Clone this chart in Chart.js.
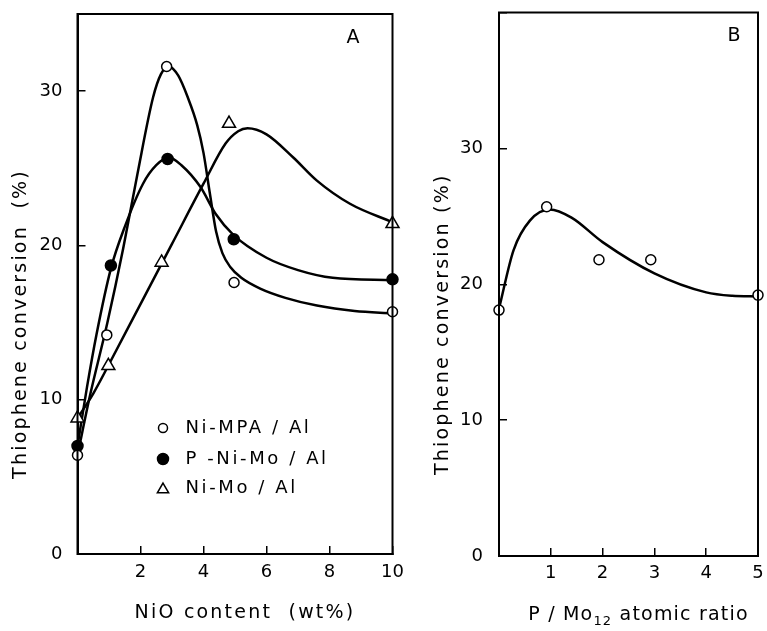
<!DOCTYPE html>
<html><head><meta charset="utf-8">
<script src="https://cdn.jsdelivr.net/npm/chart.js@4/dist/chart.umd.min.js"></script>
<style>
html,body{margin:0;padding:0;background:#fff;}
#wrap{position:relative;width:767px;height:631px;overflow:hidden;background:#fff;}
#ca{position:absolute;left:0;top:0;}
#cb{position:absolute;left:430px;top:0;}
</style></head><body>
<div id="wrap"><canvas id="ca" width="430" height="631"></canvas><canvas id="cb" width="337" height="631"></canvas></div>
<script>
// ---------- Panel A: thiophene conversion vs NiO content (wt%) ----------
const aXTicks = [2, 4, 6, 8, 10];
const aYTicks = [0, 10, 20, 30];
// measured points
const mpaX = [0, 0.93, 2.83, 4.97, 10];
const mpaY = [6.4, 14.2, 31.6, 17.6, 15.7];
const pnmX = [0, 1.06, 2.86, 4.96, 10];
const pnmY = [7.0, 18.7, 25.6, 20.4, 17.8];
const nmX = [0, 0.98, 2.67, 4.81, 10];
const nmY = [8.8, 12.2, 18.9, 27.9, 21.4];
// drawn trend curves
const mpaCurveX = [0, 0.4, 0.95, 1.45, 1.9, 2.4, 2.65, 2.9, 3.2, 3.5, 3.8, 4.0, 4.2, 4.4, 4.6, 4.85, 5.2, 5.8, 6.6, 7.6, 8.8, 10];
const mpaCurveY = [6.4, 10.3, 15.0, 19.8, 24.6, 29.6, 31.1, 31.6, 31.0, 29.6, 27.8, 26.0, 23.4, 20.9, 19.5, 18.6, 17.9, 17.2, 16.6, 16.1, 15.75, 15.6];
const pnmCurveX = [0, 0.3, 0.6, 1.06, 1.5, 2.08, 2.5, 2.9, 3.3, 3.9, 4.4, 4.94, 6.0, 7.0, 8.1, 10];
const pnmCurveY = [7.0, 10.8, 14.2, 18.5, 21.2, 24.0, 25.2, 25.7, 25.2, 23.8, 22.0, 20.7, 19.2, 18.4, 17.9, 17.75];
const nmCurveX = [0, 0.5, 1.0, 2.0, 3.0, 4.0, 4.7, 5.1, 5.4, 6.0, 6.85, 7.6, 8.65, 10];
const nmCurveY = [8.8, 10.4, 12.3, 16.2, 20.1, 24.0, 26.6, 27.4, 27.6, 27.2, 25.7, 24.2, 22.7, 21.5];
const aLegend = ['Ni-MPA / Al', 'P -Ni-Mo / Al', 'Ni-Mo / Al'];

// ---------- Panel B: thiophene conversion vs P/Mo12 atomic ratio ----------
const bXTicks = [1, 2, 3, 4, 5];
const bYTicks = [0, 10, 20, 30];
const bX = [0, 0.92, 1.93, 2.93, 5];
const bY = [18.1, 25.7, 21.8, 21.8, 19.2];
const bCurveX = [0, 0.28, 0.6, 0.98, 1.4, 2.0, 3.0, 4.0, 4.5, 5];
const bCurveY = [18.2, 22.5, 24.7, 25.5, 24.9, 23.1, 20.8, 19.4, 19.15, 19.1];

Chart.defaults.font.family = '"DejaVu Sans"';
Chart.defaults.color = '#000';

function pts(xs, ys) { return xs.map((x, i) => ({ x: x, y: ys[i] })); }

const decor = {
  id: 'decor',
  afterDraw(chart, args, o) {
    const ctx = chart.ctx, a = chart.chartArea;
    ctx.save();
    ctx.strokeStyle = '#000'; ctx.lineWidth = 2;
    ctx.strokeRect(a.left, a.top, a.right - a.left, a.bottom - a.top);
    ctx.fillStyle = '#000';
    ctx.textBaseline = 'middle';
    ctx.textAlign = 'center';
    ctx.font = '19px "DejaVu Sans"';
    ctx.fillText(o.letter, a.right - o.letterDx, a.top + o.letterDy);
    // y title
    ctx.save();
    ctx.letterSpacing = '2.2px';
    ctx.translate(a.left - 56, (a.top + a.bottom) / 2 + 40);
    ctx.rotate(-Math.PI / 2);
    ctx.fillText(o.yTitle, 0, 0);
    ctx.restore();
    // x title (with optional subscript part)
    ctx.save();
    ctx.letterSpacing = o.xSpacing;
    ctx.textAlign = 'left';
    let total = 0;
    const widths = o.xTitle.map(p => {
      ctx.font = p.sub ? '13px "DejaVu Sans"' : '19px "DejaVu Sans"';
      const w = ctx.measureText(p.t).width; total += w; return w;
    });
    let x = (a.left + a.right) / 2 + o.xTitleDx - total / 2;
    o.xTitle.forEach((p, i) => {
      ctx.font = p.sub ? '13px "DejaVu Sans"' : '19px "DejaVu Sans"';
      ctx.fillText(p.t, x, o.xTitleY + (p.sub ? 7 : 0));
      x += widths[i];
    });
    ctx.restore();
    // legend
    if (o.legend) {
      ctx.save();
      ctx.letterSpacing = '2.6px';
      ctx.textAlign = 'left';
      ctx.font = '18px "DejaVu Sans"';
      const items = chart.data.datasets.filter(d => d.legendText);
      items.forEach((d, i) => {
        const y = a.top + o.legendRows[i];
        ctx.fillStyle = d.pointBackgroundColor;
        ctx.strokeStyle = '#000';
        ctx.lineWidth = 1.5;
        Chart.helpers.drawPoint(ctx, { pointStyle: d.pointStyle, radius: d.legendRadius, rotation: 0, borderWidth: 1.5 }, a.left + 85.5, y + (d.pointStyle === 'triangle' ? 1.5 : 0));
        ctx.fillStyle = '#000';
        ctx.fillText(d.legendText, a.left + 108, y);
      });
      ctx.restore();
    }
    ctx.restore();
  }
};

function axis(min, max, step, list, isX, fitSize, pad) {
  return {
    type: 'linear', min: min, max: max,
    afterFit: s => {
      if (isX) s.height = fitSize; else s.width = fitSize;
      s.paddingTop = 0; s.paddingBottom = 0; s.paddingLeft = 0; s.paddingRight = 0;
    },
    border: { display: true, color: '#000', width: 2 },
    grid: { drawOnChartArea: false, drawTicks: true, tickLength: -8, color: '#000', lineWidth: 1.5 },
    ticks: {
      stepSize: step, autoSkip: false, maxRotation: 0, includeBounds: false, padding: pad,
      color: '#000', font: { family: '"DejaVu Sans"', size: 18 },
      callback: v => list.includes(v) ? String(v) : ''
    }
  };
}

function curve(xs, ys) {
  return { data: pts(xs, ys), borderColor: '#000', borderWidth: 2.5, pointRadius: 0, pointHoverRadius: 0,
           cubicInterpolationMode: 'monotone', fill: false, order: 1, clip: false };
}
function marks(xs, ys, style, fillc, r, legendText, legendRadius) {
  return { data: pts(xs, ys), showLine: false, pointStyle: style, pointRadius: r, pointHoverRadius: r,
           pointBackgroundColor: fillc, pointBorderColor: '#000', pointBorderWidth: 1.5, order: 0, clip: false,
           legendText: legendText, legendRadius: legendRadius };
}

new Chart(document.getElementById('ca'), {
  type: 'line',
  data: { datasets: [
    marks(mpaX, mpaY, 'circle', '#fff', 5, aLegend[0], 4.5),
    marks(pnmX, pnmY, 'circle', '#000', 5.5, aLegend[1], 5.5),
    marks(nmX, nmY, 'triangle', '#fff', 7.5, aLegend[2], 6.5),
    curve(mpaCurveX, mpaCurveY),
    curve(pnmCurveX, pnmCurveY),
    curve(nmCurveX, nmCurveY)
  ] },
  options: {
    responsive: false, animation: false, devicePixelRatio: 1,
    layout: { padding: { left: 0, top: 14, right: 37.5, bottom: 0 } },
    scales: {
      x: axis(0, 10, 2, aXTicks, true, 77, 16),
      y: axis(0, 35, 10, aYTicks, false, 77.5, 23)
    },
    plugins: {
      legend: { display: false }, tooltip: { enabled: false },
      decor: {
        letter: 'A', letterDx: 39.5, letterDy: 24,
        yTitle: 'Thiophene conversion  (%)',
        xTitle: [{ t: 'NiO content  (wt%)' }], xTitleDx: 10, xTitleY: 613, xSpacing: '2.2px',
        legend: true, legendRows: [414, 445, 474]
      }
    }
  },
  plugins: [decor]
});

new Chart(document.getElementById('cb'), {
  type: 'line',
  data: { datasets: [
    marks(bX, bY, 'circle', '#fff', 5, null, 0),
    curve(bCurveX, bCurveY)
  ] },
  options: {
    responsive: false, animation: false, devicePixelRatio: 1,
    layout: { padding: { left: 0, top: 12.5, right: 9, bottom: 0 } },
    scales: {
      x: axis(0, 5, 1, bXTicks, true, 75, 15),
      y: axis(0, 40, 10, bYTicks, false, 69, 24)
    },
    plugins: {
      legend: { display: false }, tooltip: { enabled: false },
      decor: {
        letter: 'B', letterDx: 24, letterDy: 23.5,
        yTitle: 'Thiophene conversion (%)',
        xTitle: [{ t: 'P / Mo' }, { t: '12', sub: true }, { t: ' atomic ratio' }], xTitleDx: 10, xTitleY: 615, xSpacing: '1.2px',
        legend: false
      }
    }
  },
  plugins: [decor]
});
</script>
</body></html>
